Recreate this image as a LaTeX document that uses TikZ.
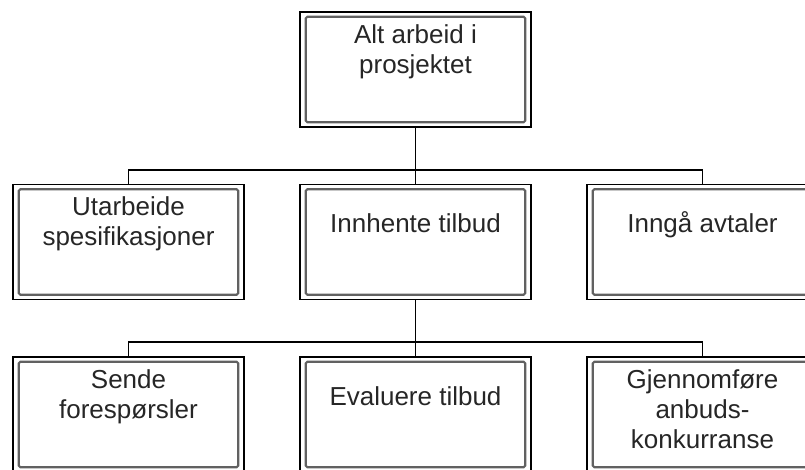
\documentclass[tikz,border=0pt]{standalone}
\usepackage{fontspec}
\setmainfont{Liberation Sans}
\begin{document}
\begin{tikzpicture}[x=1pt,y=-1pt,
  wbox/.style={draw=black, line width=1.4pt, minimum width=231pt, minimum height=115pt, inner sep=0pt},
  innerline/.style={draw=black!62, line width=2.2pt, rounded corners=1.5pt},
  conn/.style={draw=black, line width=1.4pt},
  txt/.style={anchor=base, inner sep=0pt, text=black!85}]
\useasboundingbox (0,0) rectangle (805,469);
\clip (0,0) rectangle (805,469);
\newcommand{\boxtext}[1]{\parbox[t]{225pt}{\centering\fontsize{26}{30}\selectfont #1}}
% boxes
\node[wbox] (top) at (415.5,69.5) {};
\node[wbox] (a) at (128.5,242) {};
\node[wbox] (b) at (415.5,242) {};
\node[wbox] (c) at (702.5,242) {};
\node[wbox] (d) at (128.5,414.5) {};
\node[wbox] (e) at (415.5,414.5) {};
\node[wbox] (f) at (702.5,414.5) {};
\foreach \n in {top,a,b,c,d,e,f}
  \draw[innerline] ([shift={(6.5,5.5)}]\n.north west) rectangle ([shift={(-6.5,-5.5)}]\n.south east);
% texts
\node[txt] (ttop) at ([yshift=-32pt]top.north) {\boxtext{Alt arbeid i\\prosjektet}};
\node[txt] (ta) at ([yshift=-32pt]a.north) {\boxtext{Utarbeide\\spesifikasjoner}};
\node[txt] (tb) at ([yshift=-49pt]b.north) {\boxtext{Innhente tilbud}};
\node[txt] (tc) at ([yshift=-49pt]c.north) {\boxtext{Inngå avtaler}};
\node[txt] (td) at ([yshift=-32pt]d.north) {\boxtext{Sende\\forespørsler}};
\node[txt] (te) at ([yshift=-49pt]e.north) {\boxtext{Evaluere tilbud}};
\node[txt] (tf) at ([yshift=-32pt]f.north) {\boxtext{Gjennomføre\\anbuds-\\konkurranse}};
% connectors
\coordinate (j1) at (415.5,170);
\coordinate (j2) at (415.5,342);
\draw[conn] (top.south) -- (b.north);
\draw[conn] (a.north) -- (a.north |- j1) -- (c.north |- j1) -- (c.north);
\draw[conn] (b.south) -- (e.north);
\draw[conn] (d.north) -- (d.north |- j2) -- (f.north |- j2) -- (f.north);
\end{tikzpicture}
\end{document}
